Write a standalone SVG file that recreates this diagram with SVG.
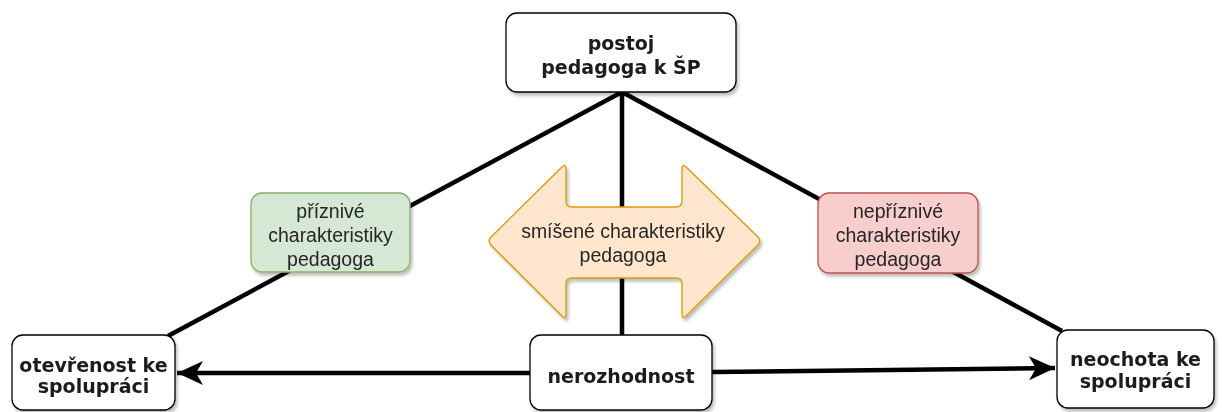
<svg xmlns="http://www.w3.org/2000/svg" width="1222" height="412" viewBox="0 0 1222 412">
<style>
.node{fill:#ffffff;stroke:#000000;stroke-width:1.3}
.bold{font-family:"DejaVu Sans",Verdana,sans-serif;font-weight:bold;font-size:19px;fill:#1a1a1a;text-anchor:middle}
.reg{font-family:"Liberation Sans",Arial,sans-serif;font-size:19.5px;fill:#262626;text-anchor:middle}
.line{stroke:#000000;stroke-width:4.5;fill:none}
</style>
<defs>
<filter id="sh" x="-10%" y="-10%" width="130%" height="130%">
<feDropShadow dx="2" dy="3" stdDeviation="1.5" flood-color="#000000" flood-opacity="0.25"/>
</filter>
<marker id="arr" markerUnits="userSpaceOnUse" markerWidth="28" markerHeight="26" refX="26" refY="12" orient="auto">
<path d="M0,0 L26,12 L0,24 L7,12 Z" fill="#000000"/>
</marker>
</defs>
<g id="connectors">
<line class="line" x1="622" y1="92" x2="168" y2="336"/>
<line class="line" x1="622" y1="92" x2="1062" y2="331"/>
<line class="line" x1="622" y1="92" x2="622" y2="335"/>
<line class="line" x1="530" y1="373" x2="177" y2="373" marker-end="url(#arr)"/>
<line class="line" x1="712" y1="372" x2="1055" y2="368" marker-end="url(#arr)"/>
</g>
<g id="top" filter="url(#sh)">
<rect class="node" x="506" y="13" width="230" height="79" rx="11"/>
<text class="bold" x="621" y="50">postoj</text>
<text class="bold" x="621" y="74">pedagoga k ŠP</text>
</g>
<g id="favorable" filter="url(#sh)">
<rect x="251" y="193" width="159" height="79" rx="11" fill="#d5e8d4" stroke="#82b366" stroke-width="1.3"/>
<text class="reg" x="330.5" y="218">příznivé</text>
<text class="reg" x="330.5" y="242">charakteristiky</text>
<text class="reg" x="330.5" y="266">pedagoga</text>
</g>
<g id="unfavorable" filter="url(#sh)">
<rect x="818" y="193" width="160" height="80" rx="11" fill="#f8cecc" stroke="#b85450" stroke-width="1.3"/>
<text class="reg" x="898" y="218">nepříznivé</text>
<text class="reg" x="898" y="242">charakteristiky</text>
<text class="reg" x="898" y="266">pedagoga</text>
</g>
<g id="mixed" filter="url(#sh)">
<path d="M 491.3,236.8 L 561.7,167.2 Q 566,163 566,169 L 566,201 Q 566,207 572,207 L 676,207 Q 682,207 682,201 L 682,169 Q 682,163 686.3,167.2 L 757.7,236.8 Q 762,241 757.7,245.2 L 686.3,315.8 Q 682,320 682,314 L 682,284 Q 682,278 676,278 L 572,278 Q 566,278 566,284 L 566,314 Q 566,320 561.8,315.8 L 491.2,245.2 Q 487,241 491.3,236.8 Z" fill="#ffe6cc" stroke="#d79b00" stroke-width="1.3"/>
<text class="reg" x="623" y="238">smíšené charakteristiky</text>
<text class="reg" x="623" y="262">pedagoga</text>
</g>
<g id="openness" filter="url(#sh)">
<rect class="node" x="12" y="335" width="163" height="75" rx="11"/>
<text class="bold" x="93.5" y="372">otevřenost ke</text>
<text class="bold" x="93.5" y="393">spolupráci</text>
</g>
<g id="indecision" filter="url(#sh)">
<rect class="node" x="530" y="335" width="182" height="75" rx="11"/>
<text class="bold" x="621" y="383">nerozhodnost</text>
</g>
<g id="reluctance" filter="url(#sh)">
<rect class="node" x="1057" y="330" width="157" height="78" rx="11"/>
<text class="bold" x="1135.5" y="366">neochota ke</text>
<text class="bold" x="1135.5" y="388">spolupráci</text>
</g>
</svg>
